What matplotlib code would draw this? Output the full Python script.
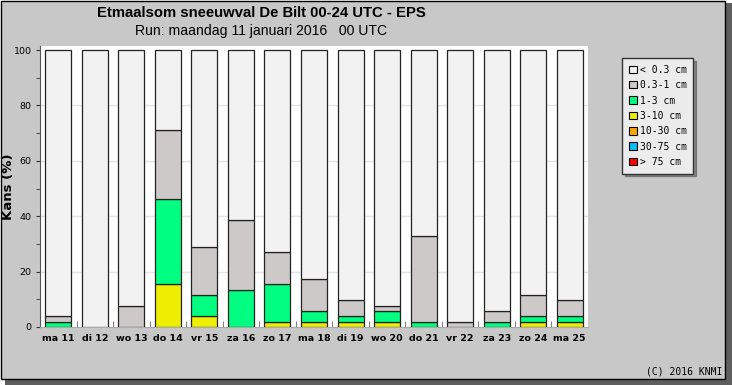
import numpy as np
import matplotlib
matplotlib.use('Agg')
import matplotlib.pyplot as plt
from matplotlib.patches import Rectangle, Patch

# dagen (x-as)
days = ['ma 11', 'di 12', 'wo 13', 'do 14', 'vr 15', 'za 16', 'zo 17', 'ma 18',
        'di 19', 'wo 20', 'do 21', 'vr 22', 'za 23', 'zo 24', 'ma 25']

# kans per klasse [%]
p_gt75   = [0, 0, 0, 0, 0, 0, 0, 0, 0, 0, 0, 0, 0, 0, 0]
p_30_75  = [0, 0, 0, 0, 0, 0, 0, 0, 0, 0, 0, 0, 0, 0, 0]
p_10_30  = [0, 0, 0, 0, 0, 0, 0, 0, 0, 0, 0, 0, 0, 0, 0]
p_3_10   = [0, 0, 0, 15.4, 3.8, 0, 1.9, 1.9, 1.9, 1.9, 0, 0, 0, 1.9, 1.9]
p_1_3    = [1.9, 0, 0, 30.8, 7.7, 13.5, 13.5, 3.8, 1.9, 3.8, 1.9, 0, 1.9, 1.9, 1.9]
p_03_1   = [1.9, 0, 7.7, 25.0, 17.3, 25.0, 11.5, 11.5, 5.8, 1.9, 30.8, 1.9, 3.8, 7.7, 5.8]

labels = ['< 0.3 cm', '0.3-1 cm', '1-3 cm', '3-10 cm', '10-30 cm', '30-75 cm', '> 75 cm']
colors = ['#f2f2f2', '#cdc9c9', '#00ff80', '#eeee00', '#ffa500', '#00bfff', '#ff0000']

W, H = 732, 385
fig = plt.figure(figsize=(W/100, H/100), dpi=100)
fig.patch.set_facecolor('white')

# paneel met schaduw
fig.patches.append(Rectangle((5/W, 0), 727/W, 382/H, transform=fig.transFigure,
                             facecolor='#5f5f5f', edgecolor='none', zorder=-2))
fig.patches.append(Rectangle((0.5/W, 6/H), 724/W, 378.5/H, transform=fig.transFigure,
                             facecolor='#c8c8c8', edgecolor='black', lw=1, zorder=-1))

ax = fig.add_axes([40/W, 58/H, 548/W, 281/H])
ax.set_zorder(2)
ax.set_facecolor('white')

x = np.arange(len(days))
layers = [p_gt75, p_30_75, p_10_30, p_3_10, p_1_3, p_03_1]
layer_cols = colors[::-1][:6]
bottom = np.zeros(len(days))
for vals, c in zip(layers, layer_cols):
    vals = np.array(vals, float)
    ax.bar(x, vals, width=0.71, bottom=bottom, color=c, edgecolor='#222222',
           linewidth=0.9, zorder=3)
    bottom += vals
rest = 100 - bottom
ax.bar(x, rest, width=0.71, bottom=bottom, color=colors[0], edgecolor='#222222',
       linewidth=0.9, zorder=3)

ax.set_xlim(-0.5, len(days) - 0.5)
ax.set_ylim(0, 100 * 281 / 277)
ax.set_yticks([0, 20, 40, 60, 80, 100])
ax.set_yticks([10, 30, 50, 70, 90], minor=True)
ax.tick_params(axis='y', which='both', direction='out', length=3, color='#333333',
               labelsize=6.8, pad=3)
ax.set_xticks(x)
ax.set_xticklabels(days, fontsize=6.8, fontweight='bold')
ax.tick_params(axis='x', which='major', length=0, pad=5)
ax.set_xticks(x[:-1] + 0.5, minor=True)
ax.tick_params(axis='x', which='minor', direction='in', length=4, color='#666666')
for v in [20, 40, 60, 80]:
    ax.axhline(v, color='#e4e4e4', lw=1, zorder=1)

for s in ['top', 'right']:
    ax.spines[s].set_visible(False)
ax.spines['left'].set_color('#555555')
ax.spines['bottom'].set_color('#aaaaaa')

fig.text(9/W, 1 - 187/H, 'Kans (%)', rotation=90, ha='center', va='center',
         fontsize=9.5, fontweight='bold')

fig.text(261/W, 1 - 13/H, 'Etmaalsom sneeuwval De Bilt 00-24 UTC - EPS',
         ha='center', va='center', fontsize=10.7, fontweight='bold',
         family='Liberation Sans')
fig.text(261/W, 1 - 31/H, 'Run: maandag 11 januari 2016   00 UTC',
         ha='center', va='center', fontsize=10.1, family='Liberation Sans')
fig.text(722/W, 1 - 372/H, '(C) 2016 KNMI', ha='right', va='center',
         fontsize=7, family='DejaVu Sans Mono')

handles = [Patch(facecolor=c, edgecolor='black', lw=0.8) for c in colors]
leg = fig.legend(handles, labels, loc='upper left', bbox_to_anchor=(622/W, 1 - 58/H),
                 borderaxespad=0, prop={'family': 'DejaVu Sans Mono', 'size': 7},
                 frameon=True, fancybox=False, shadow=True, framealpha=1,
                 facecolor='#ececec', edgecolor='#333333', handlelength=0.8,
                 handleheight=0.8, handletextpad=0.3, labelspacing=0.55,
                 borderpad=0.7)

fig.savefig('out.png', dpi=100)
